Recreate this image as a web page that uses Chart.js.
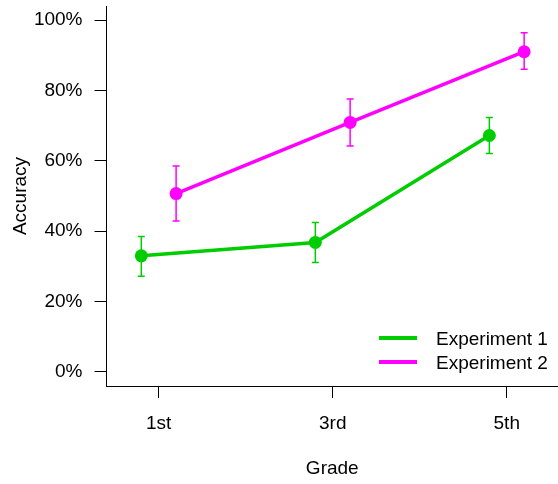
<!DOCTYPE html>
<html lang="en">
<head>
    <meta charset="UTF-8">
    <title>Accuracy by Grade</title>
    <script src="https://cdn.jsdelivr.net/npm/chart.js@4.4.1/dist/chart.umd.min.js"></script>
    <style>
        body {
            margin: 0;
            background: #ffffff;
        }

        .wrap {
            position: relative;
            width: 558px;
            height: 484px;
        }

        .legend {
            position: absolute;
            left: 379px;
            top: 327px;
            font: 19px "Liberation Sans", Arial, sans-serif;
            color: #000;
        }

        .legend-row {
            position: relative;
            height: 24px;
            line-height: 24px;
            white-space: nowrap;
        }

        .legend-row .swatch {
            position: absolute;
            left: 0;
            top: 9px;
            width: 38px;
            height: 4px;
        }

        .legend-row span {
            position: absolute;
            left: 57px;
            top: 0;
        }
    </style>
</head>
<body>

<div class="wrap">
    <canvas id="accChart" width="558" height="484"></canvas>

    <!-- legend drawn in plain html -->
    <div class="legend">
        <div class="legend-row"><div class="swatch" style="background:#00cd00"></div><span>Experiment 1</span></div>
        <div class="legend-row"><div class="swatch" style="background:#ff00ff"></div><span>Experiment 2</span></div>
    </div>
</div>

<script>
    // categories on the x axis
    var grades = ['1st', '3rd', '5th'];
    var gradePos = [1, 2, 3];

    // accuracy (%) with error bar ends
    var exp1Mean = [33.0, 36.8, 67.2];
    var exp1Low = [27.2, 31.1, 62.1];
    var exp1High = [38.5, 42.5, 72.3];

    var exp2Mean = [50.7, 70.9, 91.0];
    var exp2Low = [42.9, 64.2, 86.0];
    var exp2High = [58.5, 77.6, 96.4];

    var yTicks = [0, 20, 40, 60, 80, 100];

    var dodge = 0.1;
    var fontFamily = '"Liberation Sans", Arial, sans-serif';

    function points(mean, shift) {
        return mean.map(function (v, i) {
            return { x: gradePos[i] + shift, y: v };
        });
    }

    // vertical error bars with small caps, placed with the chart's scales
    var errorBars = {
        id: 'errorBars',
        beforeDatasetsDraw: function (chart) {
            var ctx = chart.ctx;
            var xs = chart.scales.x;
            var ys = chart.scales.y;
            chart.data.datasets.forEach(function (ds) {
                ctx.save();
                ctx.strokeStyle = ds.borderColor;
                ctx.lineWidth = 1.5;
                ds.data.forEach(function (p, i) {
                    var x = xs.getPixelForValue(p.x);
                    var top = ys.getPixelForValue(ds.high[i]);
                    var bot = ys.getPixelForValue(ds.low[i]);
                    ctx.beginPath();
                    ctx.moveTo(x, top);
                    ctx.lineTo(x, bot);
                    ctx.moveTo(x - 3.5, top);
                    ctx.lineTo(x + 3.5, top);
                    ctx.moveTo(x - 3.5, bot);
                    ctx.lineTo(x + 3.5, bot);
                    ctx.stroke();
                });
                ctx.restore();
            });
        }
    };

    var axisStyle = {
        grid: {
            display: true,
            drawOnChartArea: false,
            drawTicks: true,
            tickLength: 12,
            tickColor: '#000',
            tickWidth: 1
        },
        border: { display: true, color: '#000', width: 1 }
    };

    // no extra room for labels hanging over the ends of the axes
    function noPad(s) {
        s.paddingTop = 0;
        s.paddingBottom = 0;
        s.paddingLeft = 0;
        s.paddingRight = 0;
    }

    new Chart(document.getElementById('accChart'), {
        type: 'line',
        data: {
            datasets: [{
                label: 'Experiment 1',
                data: points(exp1Mean, -dodge),
                low: exp1Low,
                high: exp1High,
                borderColor: '#00cd00',
                backgroundColor: '#00cd00',
                borderWidth: 3.5,
                pointRadius: 6.5,
                pointBorderWidth: 0,
                tension: 0
            }, {
                label: 'Experiment 2',
                data: points(exp2Mean, dodge),
                low: exp2Low,
                high: exp2High,
                borderColor: '#ff00ff',
                backgroundColor: '#ff00ff',
                borderWidth: 3.5,
                pointRadius: 6.5,
                pointBorderWidth: 0,
                tension: 0
            }]
        },
        options: {
            responsive: false,
            animation: false,
            layout: { autoPadding: false, padding: { top: 6, left: 0, right: 0, bottom: 0 } },
            plugins: {
                legend: { display: false },
                tooltip: { enabled: false }
            },
            scales: {
                x: {
                    type: 'linear',
                    min: 0.7,
                    max: 3.2945,
                    grid: axisStyle.grid,
                    border: axisStyle.border,
                    afterBuildTicks: function (s) {
                        s.ticks = gradePos.map(function (v) { return { value: v }; });
                    },
                    afterFit: function (s) { s.height = 98; noPad(s); },
                    ticks: {
                        font: { family: fontFamily, size: 19 },
                        color: '#000',
                        padding: 14,
                        maxRotation: 0,
                        autoSkip: false,
                        callback: function (v) { return grades[gradePos.indexOf(v)]; }
                    },
                    title: {
                        display: true,
                        text: 'Grade',
                        color: '#000',
                        font: { family: fontFamily, size: 19 },
                        padding: { top: 0, bottom: 4 }
                    }
                },
                y: {
                    min: -4,
                    max: 104,
                    grid: axisStyle.grid,
                    border: axisStyle.border,
                    afterBuildTicks: function (s) {
                        s.ticks = yTicks.map(function (v) { return { value: v }; });
                    },
                    afterFit: function (s) { s.width = 106.5; noPad(s); },
                    ticks: {
                        font: { family: fontFamily, size: 19 },
                        color: '#000',
                        padding: 12,
                        callback: function (v) { return v + '%'; }
                    },
                    title: {
                        display: true,
                        text: 'Accuracy',
                        color: '#000',
                        font: { family: fontFamily, size: 19 },
                        padding: { top: 9, bottom: 0 }
                    }
                }
            }
        },
        plugins: [errorBars]
    });
</script>
</body>
</html>
